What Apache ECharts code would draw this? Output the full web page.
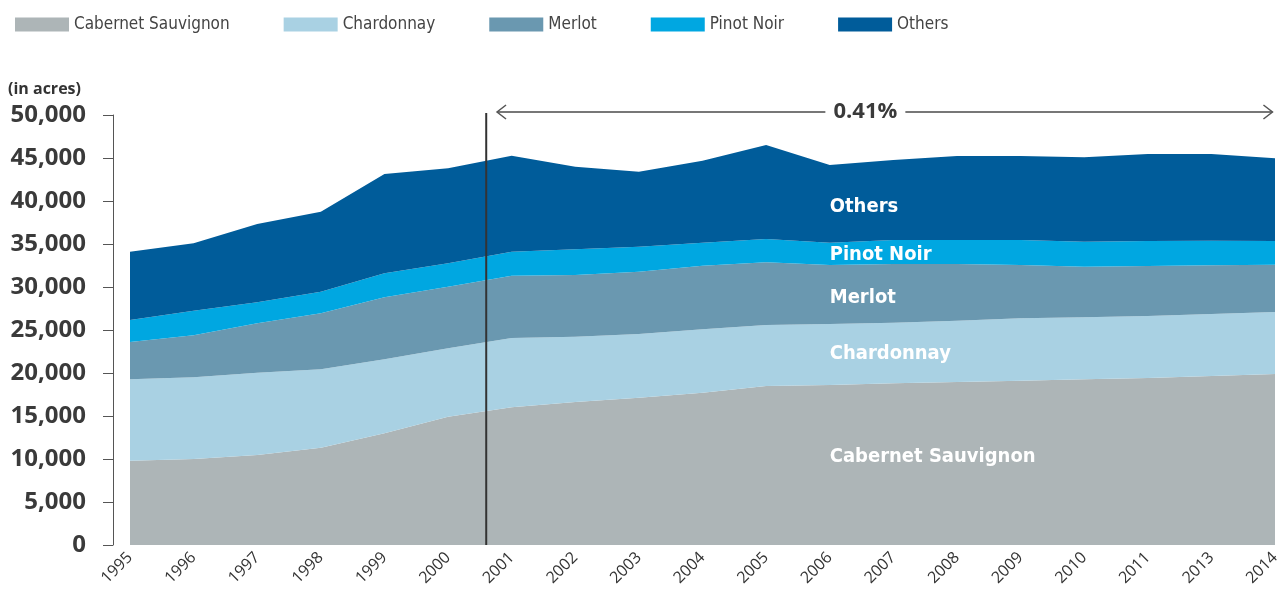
<!DOCTYPE html>
<html>
<head>
<meta charset="utf-8">
<script src="https://cdn.jsdelivr.net/npm/echarts@6/dist/echarts.min.js"></script>
<style>
  html, body { margin: 0; padding: 0; background: #fff; }
  #chart { width: 1285px; height: 594px; }
</style>
</head>
<body>
<div id="chart"></div>
<script>
// years on the x axis (2012 is not in the source)
var years = ['1995', '1996', '1997', '1998', '1999', '2000', '2001', '2002', '2003', '2004',
  '2005', '2006', '2007', '2008', '2009', '2010', '2011', '2013', '2014'];

// acres per variety
var cabernet = [9800, 10000, 10470, 11310, 12990, 14920, 16010, 16630, 17130, 17710,
  18490, 18600, 18800, 18950, 19100, 19270, 19420, 19650, 19880];
var chardonnay = [9470, 9500, 9560, 9120, 8600, 7950, 8060, 7590, 7400, 7370,
  7090, 7100, 7050, 7130, 7260, 7210, 7210, 7210, 7210];
var merlot = [4330, 4880, 5750, 6510, 7210, 7160, 7240, 7180, 7250, 7400,
  7290, 6860, 6820, 6590, 6200, 5880, 5810, 5660, 5500];
var pinotNoir = [2560, 2860, 2440, 2510, 2790, 2730, 2790, 2980, 2910, 2670,
  2710, 2590, 2800, 2800, 2910, 2910, 2910, 2860, 2760];
var others = [7940, 7840, 9110, 9300, 11550, 11040, 11170, 9610, 8720, 9540,
  10930, 9040, 9300, 9760, 9760, 9810, 10120, 10090, 9620];

var names = ['Cabernet Sauvignon', 'Chardonnay', 'Merlot', 'Pinot Noir', 'Others'];
var colors = ['#adb5b7', '#a9d1e3', '#6a98b0', '#00a7e1', '#005c9a'];

// annotation: divider between 2000 and 2001 and the growth arrow (in category index units)
var dividerAt = 5.6;
var growthFrom = 5.77, growthTo = 17.96;
var growthLabel = '0.41%';

var condensed = "'DejaVu Sans Condensed', 'Liberation Sans Narrow', 'Roboto', sans-serif";

var allSeries = [cabernet, chardonnay, merlot, pinotNoir, others];

var chart = echarts.init(document.getElementById('chart'), null, { renderer: 'canvas' });

var option = {
  animation: false,
  color: colors,
  legend: {
    left: 10,
    top: 11,
    itemWidth: 54,
    itemHeight: 14,
    itemGap: 54,
    icon: 'rect',
    textStyle: { fontFamily: condensed, fontSize: 17, color: '#444' },
    data: names
  },
  title: {
    text: '(in acres)',
    left: 3,
    top: 76,
    textStyle: { fontFamily: "'Open Sans', sans-serif", fontSize: 16, fontWeight: 'bold', color: '#333' }
  },
  grid: { left: 130, right: 10, top: 115, bottom: 49 },
  xAxis: {
    type: 'category',
    data: years,
    boundaryGap: false,
    axisLine: { show: false },
    axisTick: { show: false },
    splitLine: { show: false },
    axisLabel: {
      rotate: 45,
      margin: 10,
      interval: 0,
      fontFamily: "'Open Sans', sans-serif",
      fontSize: 16,
      color: '#333'
    }
  },
  yAxis: {
    type: 'value',
    min: 0,
    max: 50000,
    interval: 5000,
    offset: 17,
    axisLine: { show: true, onZero: false, lineStyle: { color: '#555', width: 1 } },
    axisTick: { show: true, length: 10, lineStyle: { color: '#555' } },
    splitLine: { show: false },
    axisLabel: {
      margin: 27,
      fontFamily: "'Open Sans', sans-serif",
      fontSize: 24,
      fontWeight: 'bold',
      color: '#3a3a3a',
      formatter: function (v) { return v.toLocaleString('en-US'); }
    }
  },
  series: allSeries.map(function (arr, k) {
    return {
      name: names[k],
      type: 'line',
      stack: 'acres',
      data: arr,
      showSymbol: false,
      lineStyle: { width: 0 },
      areaStyle: { color: colors[k], opacity: 1 },
      itemStyle: { color: colors[k] },
      z: 2
    };
  })
};

chart.setOption(option);

// overlay texts, divider and growth arrow, placed through the axes
function xPx(idx) {
  var i0 = Math.floor(idx), i1 = Math.min(i0 + 1, years.length - 1);
  var p0 = chart.convertToPixel({ xAxisIndex: 0 }, years[i0]);
  var p1 = chart.convertToPixel({ xAxisIndex: 0 }, years[i1]);
  return p0 + (p1 - p0) * (idx - i0);
}
function yPx(v) { return chart.convertToPixel({ yAxisIndex: 0 }, v); }

var areaLabels = [
  { text: 'Others', y: 39300 },
  { text: 'Pinot Noir', y: 33800 },
  { text: 'Merlot', y: 28800 },
  { text: 'Chardonnay', y: 22200 },
  { text: 'Cabernet Sauvignon', y: 10300 }
];

var labelX = xPx(11);
var graphics = areaLabels.map(function (l) {
  return {
    type: 'text',
    x: labelX,
    y: yPx(l.y),
    z: 10,
    style: {
      text: l.text,
      fill: '#fff',
      font: 'bold 20px ' + condensed,
      verticalAlign: 'middle'
    }
  };
});

var dx = xPx(dividerAt);
graphics.push({
  type: 'line', z: 10,
  shape: { x1: dx, y1: yPx(50000) - 2, x2: dx, y2: yPx(0) },
  style: { stroke: '#333', lineWidth: 2 }
});

var ax = xPx(growthFrom), bx = xPx(growthTo);
var ay = 112;
var midX = ax + (bx - ax) * 0.475;
var gapHalf = 40;
graphics.push(
  { type: 'line', z: 10, shape: { x1: ax, y1: ay, x2: midX - gapHalf, y2: ay }, style: { stroke: '#777', lineWidth: 2 } },
  { type: 'line', z: 10, shape: { x1: midX + gapHalf, y1: ay, x2: bx, y2: ay }, style: { stroke: '#777', lineWidth: 2 } },
  { type: 'polyline', z: 10, shape: { points: [[ax + 9, ay - 7], [ax, ay], [ax + 9, ay + 7]] }, style: { stroke: '#555', lineWidth: 1.5, fill: null } },
  { type: 'polyline', z: 10, shape: { points: [[bx - 9, ay - 7], [bx, ay], [bx - 9, ay + 7]] }, style: { stroke: '#555', lineWidth: 1.5, fill: null } },
  {
    type: 'text', z: 10, x: midX, y: ay,
    style: {
      text: growthLabel,
      fill: '#3a3a3a',
      font: "bold 22px 'Open Sans', sans-serif",
      align: 'center',
      verticalAlign: 'middle'
    }
  }
);

chart.setOption({ graphic: graphics });
</script>
</body>
</html>
